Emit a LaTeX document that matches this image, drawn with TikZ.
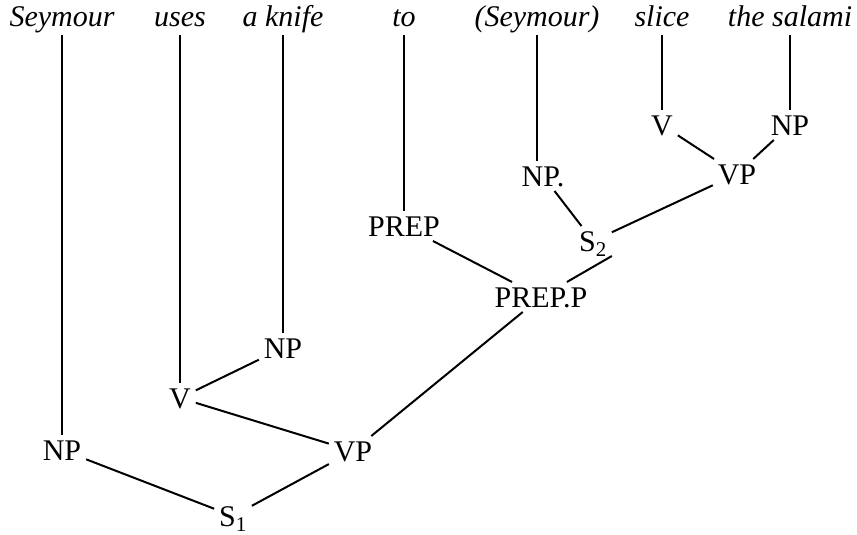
\documentclass[tikz,border=0pt]{standalone}
\usepackage{fontspec}
\setmainfont{Liberation Serif}

\begin{document}
\begin{tikzpicture}[x=1pt,y=-1pt,line width=2pt,
  every node/.style={font=\fontsize{30}{36}\selectfont},
  word/.style={font=\fontsize{30}{36}\selectfont\itshape,anchor=base,
    text height=21pt,text depth=6pt,inner sep=1pt},
  cat/.style={text height=20pt,text depth=0pt,inner sep=4pt}]
\useasboundingbox (0,0) rectangle (857,535);

\node[word] (seymour) at (62,27) {Seymour};
\node[word] (uses) at (180,27) {uses};
\node[word] (knife) at (283,27) {a knife};
\node[word] (to) at (404,27) {to};
\node[word] (seymourb) at (537,27) {(Seymour)};
\node[word] (slice) at (662,27) {slice};
\node[word] (salami) at (790,27) {the salami};

\node[cat] (np) at (62,450) {NP};
\node[cat] (s1) at (233,516) {S\textsubscript{1}};
\node[cat] (vp) at (353,451) {VP};
\node[cat] (v) at (180,398) {V};
\node[cat] (npk) at (283,348) {NP};
\node[cat] (prepp) at (541,297) {PREP.P};
\node[cat] (prep) at (404,226) {PREP};
\node[cat] (s2) at (593,241) {S\textsubscript{2}};
\node[cat] (npi) at (543,176) {NP.};
\node[cat] (vps) at (737,174) {VP};
\node[cat] (vs) at (662,125) {V};
\node[cat] (nps) at (790,125) {NP};

\draw (seymour) -- (np);
\draw (uses) -- (v);
\draw (knife) -- (npk);
\draw (to) -- (prep);
\draw (seymourb) -- (seymourb |- npi.north);
\draw (slice) -- (vs);
\draw (salami) -- (nps);

\draw (np) -- (s1) -- (vp);
\draw (vp) -- (v) -- (npk);
\draw (vp) -- (prepp) -- (prep);
\draw (prepp) -- (s2.south east);
\draw (npi) -- (s2) -- (vps) -- (vs);
\draw (vps) -- (nps);
\end{tikzpicture}
\end{document}
